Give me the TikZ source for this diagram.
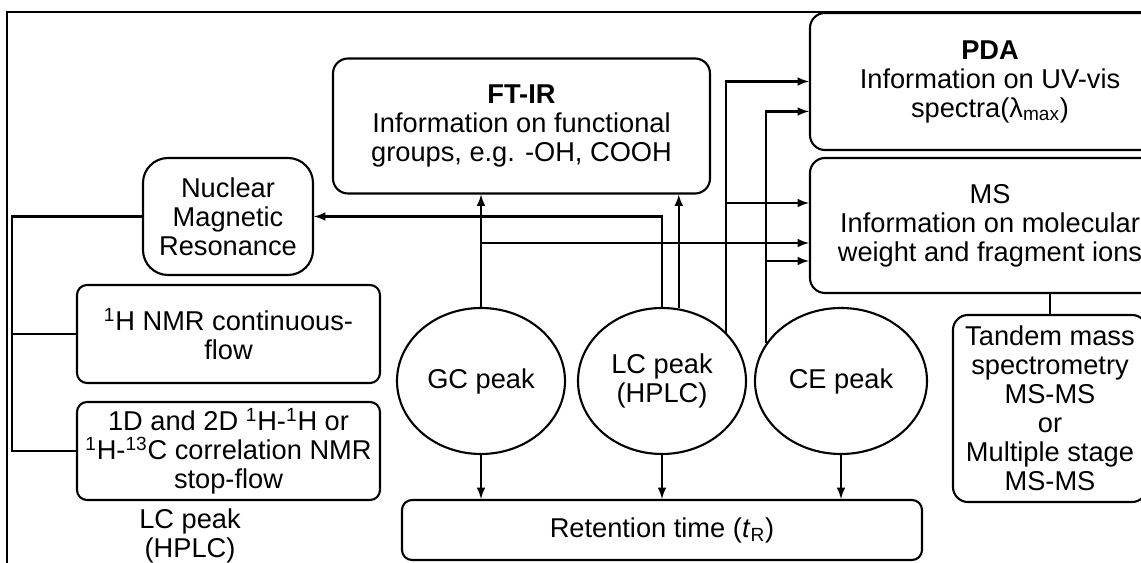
\documentclass[tikz,border=0pt]{standalone}
\usepackage{fontspec}
\setmainfont{Liberation Sans}
\usetikzlibrary{shapes.geometric}

\begin{document}
\begin{tikzpicture}[>=latex, line width=1.2pt,
    every node/.style={font=\fontsize{15.5}{16.5}\selectfont, align=center},
    infobox/.style={draw, rounded corners=0.3cm, minimum width=7.2cm, minimum height=2.7cm},
    modebox/.style={draw, rounded corners=0.2cm, minimum width=6.06cm, minimum height=1.96cm},
    peak/.style={draw, ellipse, minimum width=3.36cm, minimum height=2.92cm, inner sep=0pt}]
  \useasboundingbox (0, 0) rectangle (22.82, 11.26);
  \draw (0.14, -0.5) -- (0.14, 11.02) -- (23, 11.02);

  % detectors
  \node[infobox, minimum width=7.54cm] (ftir) at (10.43, 8.74)
        {\textbf{FT-IR}\\ Information on functional\\ groups, e.g. -OH, COOH};
  \node[infobox, minimum height=2.74cm] (pda) at (19.8, 9.63)
        {\textbf{PDA}\\ Information on UV-vis\\ spectra(λ\textsubscript{max})};
  \node[infobox] (ms) at (19.8, 6.75)
        {MS\\ Information on molecular\\ weight and fragment ions};
  \node[draw, rounded corners=0.3cm, minimum width=3.88cm, minimum height=3.74cm] (tandem) at (21.0, 3.09)
        {Tandem mass\\ spectrometry\\ MS-MS\\ or\\ Multiple stage\\ MS-MS};
  \node[draw, rounded corners=0.5cm, minimum width=3.4cm, minimum height=2.34cm] (nmr) at (4.56, 6.93)
        {Nuclear\\ Magnetic\\ Resonance};
  \node[modebox] (hcont) at (4.57, 4.58)
        {\textsuperscript{1}H NMR continuous-\\ flow};
  \node[modebox] (onedim) at (4.57, 2.24)
        {1D and 2D \textsuperscript{1}H-\textsuperscript{1}H or\\ \textsuperscript{1}H-\textsuperscript{13}C correlation NMR\\ stop-flow};
  \node (lclabel) at (3.8, 0.54) {LC peak\\ (HPLC)};

  % peaks
  \node[peak] (gc) at (9.62, 3.64) {GC peak};
  \node[peak] (lc) at (13.24, 3.64) {LC peak\\ (HPLC)};
  \node[peak, minimum width=3.44cm] (ce) at (16.82, 3.64) {CE peak};
  \node[draw, rounded corners=0.2cm, minimum width=10.4cm, minimum height=1.2cm] (rt) at (13.24, 0.66)
        {Retention time (\textit{t}\textsubscript{R})};

  \draw[->] (gc.south) -- (gc.south |- rt.north);
  \draw[->] (lc.south) -- (lc.south |- rt.north);
  \draw[->] (ce.south) -- (ce.south |- rt.north);

  \draw[->] (gc.north) -- (gc.north |- ftir.south);
  \draw[->] (lc.77) -- (lc.77 |- ftir.south);
  \draw[->] (lc.north) |- (nmr.east);
  \draw[->] (gc.north) |- ([yshift=-0.35cm]ms.west);
  \draw[->] (lc.37) |- (pda.west);
  \draw[->] (lc.37) |- ([yshift=0.45cm]ms.west);
  \draw[->] (ce.153) |- ([yshift=-0.6cm]pda.west);
  \draw[->] (ce.153) |- ([yshift=-0.71cm]ms.west);
  \draw (tandem.north |- ms.south) -- (tandem.north);

  % NMR modes
  \coordinate (bus) at (0.24, 0);
  \draw (nmr.west) -- (nmr.west -| bus) |- (onedim.west);
  \draw (bus |- hcont.west) -- (hcont.west);
\end{tikzpicture}
\end{document}
